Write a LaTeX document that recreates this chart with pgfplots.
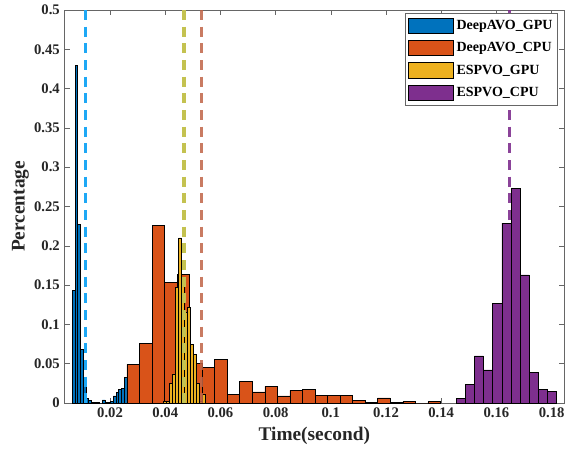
\documentclass[border=0pt]{standalone}
\usepackage{fontspec}
\setmainfont{Liberation Serif}
\usepackage{pgfplots}
\pgfplotsset{compat=1.18}

\definecolor{mblue}{RGB}{0,114,189}
\definecolor{morange}{RGB}{217,83,25}
\definecolor{myellow}{RGB}{237,177,32}
\definecolor{mpurple}{RGB}{126,47,142}
\definecolor{dblue}{RGB}{30,168,245}
\definecolor{dyellow}{RGB}{196,194,80}
\definecolor{dbrown}{RGB}{192,100,70}
\definecolor{dpurple}{RGB}{126,47,142}

\begin{document}
\begin{tikzpicture}
\begin{axis}[
  scale only axis,
  width=374.6pt, height=294.75pt,
  xmin=0.0035, xmax=0.1845,
  ymin=0, ymax=0.5,
  xtick={0.02,0.04,0.06,0.08,0.1,0.12,0.14,0.16,0.18},
  ytick={0,0.05,0.1,0.15,0.2,0.25,0.3,0.35,0.4,0.45,0.5},
  scaled ticks=false,
  /pgf/number format/fixed,
  /pgf/number format/precision=2,
  /pgf/number format/assume math mode=true,
  tick label style={font=\fontsize{11}{13}\selectfont\bfseries, black!85},
  label style={font=\fontsize{14.5}{17}\selectfont\bfseries, black!85},
  xlabel={Time(second)},
  ylabel={Percentage},
  ylabel shift=-3pt,
  axis line style={black!60},
  tick style={black!60, line width=0.4pt},
  major tick length=4pt,
  legend style={at={(0.988,0.992)}, anchor=north east,
    font=\fontsize{10.5}{12}\selectfont\bfseries, draw=black!60,
    row sep=4.3pt, inner xsep=2pt, inner ysep=3pt},
  legend cell align=left,
  legend image code/.code={\draw[#1, draw=black] (0pt,-5.7pt) rectangle (34pt,5.7pt);},
]
% DeepAVO_GPU
\addplot[ybar interval, fill=mblue, draw=black, line width=0.5pt] coordinates {
(0.00634,0.143) (0.00733,0.430) (0.00832,0.227) (0.00931,0.068) (0.01030,0.025)
(0.01129,0.006) (0.01228,0.003) (0.01327,0.001) (0.01426,0.001) (0.01525,0.001)
(0.01624,0.000) (0.01723,0.004) (0.01822,0.001) (0.01921,0.001) (0.02020,0.002)
(0.02119,0.009) (0.02218,0.013) (0.02317,0.017) (0.02416,0.019) (0.02515,0.033)
(0.02614,0)};
\addlegendentry{DeepAVO\_GPU}
% DeepAVO_CPU
\addplot[ybar interval, fill=morange, draw=black, line width=0.5pt] coordinates {
(0.0261,0.049) (0.0306,0.076) (0.0352,0.226) (0.0397,0.153) (0.0443,0.164)
(0.0488,0.050) (0.0534,0.045) (0.0579,0.055) (0.0624,0.011) (0.0670,0.027)
(0.0715,0.014) (0.0761,0.021) (0.0806,0.009) (0.0852,0.016) (0.0897,0.017)
(0.0943,0.010) (0.0988,0.010) (0.1033,0.0098) (0.1079,0.003) (0.1124,0.001)
(0.1170,0.0064) (0.1215,0.001) (0.1261,0.002) (0.1306,0.000) (0.1352,0.0015)
(0.1397,0)};
\addlegendentry{DeepAVO\_CPU}
% ESPVO_GPU
\addplot[ybar interval, fill=myellow, draw=black, line width=0.5pt] coordinates {
(0.0393,0.002) (0.0404,0.002) (0.0415,0.025) (0.0426,0.037) (0.0437,0.147)
(0.0448,0.210) (0.0458,0.156) (0.0469,0.115) (0.0480,0.122) (0.0491,0.075)
(0.0502,0.062) (0.0513,0.025) (0.0524,0.002) (0.0535,0.0115)
(0.0546,0)};
\addlegendentry{ESPVO\_GPU}
% ESPVO_CPU
\addplot[ybar interval, fill=mpurple, draw=black, line width=0.5pt] coordinates {
(0.1454,0.006) (0.1487,0.024) (0.1520,0.060) (0.1553,0.042) (0.1586,0.127)
(0.1620,0.229) (0.1653,0.273) (0.1686,0.163) (0.1719,0.039) (0.1752,0.0174)
(0.1785,0.0144) (0.1819,0)};
\addlegendentry{ESPVO\_CPU}
% mean lines
\addplot[forget plot, dblue, line width=2.2pt, dash pattern=on 7.5pt off 5pt] coordinates {(0.0112,0.5) (0.0112,0)};
\addplot[forget plot, dyellow, line width=2.4pt, dash pattern=on 7.5pt off 5pt] coordinates {(0.0468,0.5) (0.0468,0)};
\addplot[forget plot, dbrown, line width=2.2pt, dash pattern=on 7.5pt off 5pt, opacity=0.85] coordinates {(0.0533,0.5) (0.0533,0)};
\addplot[forget plot, dpurple, line width=2.2pt, dash pattern=on 7.5pt off 5pt, opacity=0.9] coordinates {(0.1647,0.5) (0.1647,0)};
\coordinate (sw) at (rel axis cs:0,0);
\coordinate (ne) at (rel axis cs:1,1);
\end{axis}
\pgfresetboundingbox
\path ([shift={(-48.4pt,-35.25pt)}]sw) rectangle ([shift={(2.25pt,7.5pt)}]ne);
\end{tikzpicture}
\end{document}
